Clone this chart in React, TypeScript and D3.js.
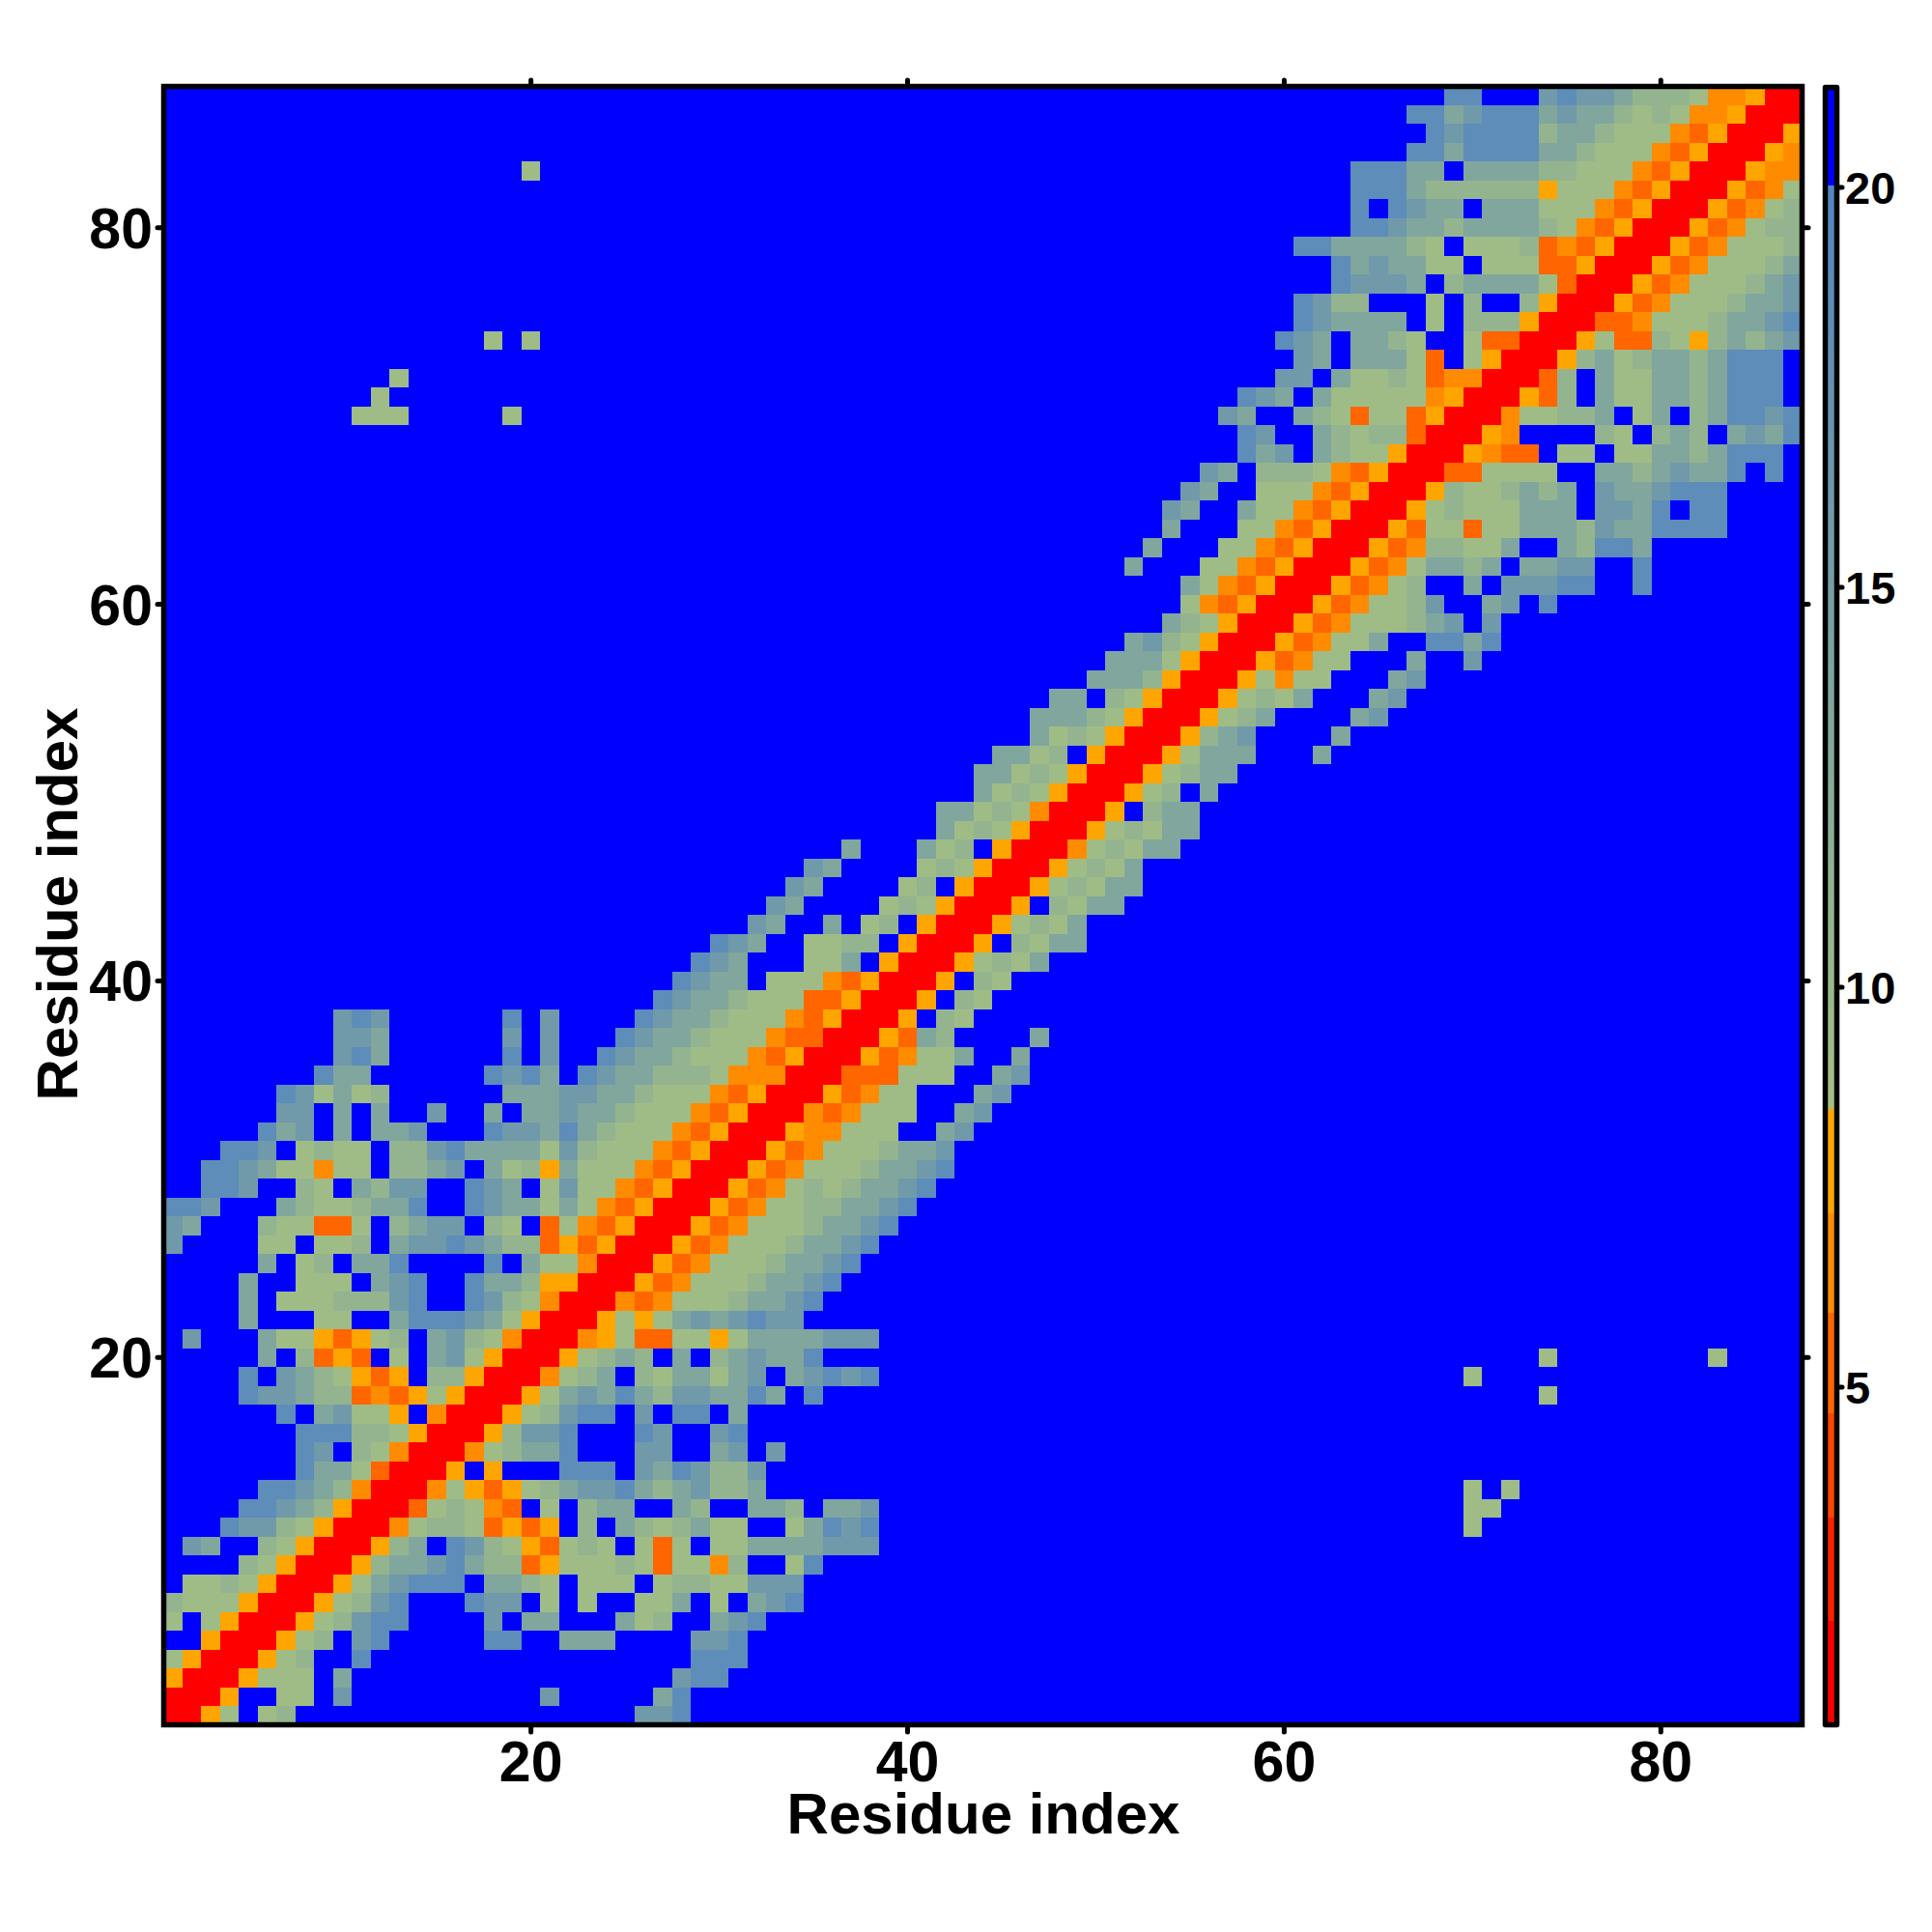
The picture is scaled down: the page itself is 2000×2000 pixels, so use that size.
import React from "react";
import * as d3 from "d3";

// Symmetric contact map: each row starts at its diagonal cell (row r, column r);
// omitted trailing cells are out of range (blue).
const upperRows: string[] = [
  "rrfe.ed" + "..................bba",
  "rrf..ee.b" + ".........." + "b" + "....." + "ca",
  "rrfeee.c" + "................." + "baa",
  "rrfed..a" + "................." + "aaa",
  "rrfed.ba.....aa..ccc....bba",
  "rrfedbaa....b.cc...ced..cba",
  "rrfedba...abb.e.e..eec.e.cba",
  "rrfecbaaa.ccde.eee.eddeebbb",
  "rrfdccbacddhfeeedeheegd..ea",
  "rrfdc.abdefhede.ehe.eeccccbbb",
  "rrgeddehfhf.d.cdedcee..ecaba",
  "rrhedegh.e.dcc..cd..ccd.ccb",
  "rrgefhfedcbbacdcbddc",
  "rrf.f...aaa.bcabddb",
  "rrgedcca...bb..cb.b",
  "rrfdbba...ab..ba",
  "rrfedbaa.b.aa.c",
  "rrfecbcacdbbccac.a",
  "rrgedc.deccecb.cbaba",
  "rrfedcd.c.dcbcca",
  "rrgfehheefeccccbbb",
  "rrfefecbcbabb",
  "rrghgeeedccba",
  "rrfhgeeedccba",
  "rrfhgeeedccba",
  "rrfhgeeedccba",
  "rrfhgeeedccba",
  "rrfhgeeddccba",
  "rrfhgededccba",
  "rrfhgeeedccba",
  "rrfhgeeedccb",
  "rrfggeee..cb",
  "rrghgeee..cb",
  "rrfhgee...cb",
  "rrhhheee..cb",
  "rrfhgeec..c",
  "rrfhcd....c",
  "rrf.de",
  "rrf.de",
  "rrf.de",
  "rrfedec",
  "rrf.decc",
  "rrfedec",
  "rrf.decc",
  "rrfedecc",
  "rrfedec",
  "rrgedecc",
  "rrfedecc",
  "rrf.dcc",
  "rrfed.c",
  "rrfedcc",
  "rrfeccc...c",
  "rrfdcb....c",
  "rrfedc....cb",
  "rrfedec...cb",
  "rrfegee...cb",
  "rrfhgee...c..b",
  "rrfhgeec..aaca",
  "rrfhgeeedcb.b",
  "rrfhgeedb..cb.a",
  "rrfhged..c.bbbaa..a",
  "rrfhgeccdc.ccbb..a",
  "rrfhgddeec..cdaac",
  "rrfheeheecccdbccaaaa",
  "rrfedeeeccc.bbca.aa",
  "rrfdeedcdc.bccbaaa",
  "rrhheeee..ccdcbcca.a",
  "rrfghh.ee.eeccdcaaa",
  "rrfg....de.dcd.cbca",
  "rrgeeddc.ec.dcaaba",
  "rrfhd.ceeccdcaaa",
  "rrhd.ceeccdcaaa",
  "rrfdcedccdcaaa",
  "rrfehhdefdcdcb",
  "rrhhgeeedccba",
  "rrfhgeeedccb",
  "rrfhgeeedcb",
  "rrfhgeeedc",
  "rrfhgeeed",
  "rrfhgedd",
  "rrfhged",
  "rrfhge",
  "rrfgg",
  "rrfg",
  "rrf",
  "rr",
  "r",
];

// [column, row] of isolated long-range contacts (code "e"), mirrored on draw
const strayContacts: [number, number][] = [
  [70, 19], [74, 20], [83, 20], [74, 18], [70, 13],
  [72, 13], [70, 12], [71, 12], [70, 11],
];

const codeValues: Record<string, number> = {
  r: 1.5, h: 5.2, g: 6.5, f: 7.8, e: 9.3, d: 10.8, c: 13.5, b: 15.8, a: 18.5, ".": 21,
};

const warmThresholds = [2.05, 3.35, 4.65, 5.9, 7.17, 8.45];
const warmColors = ["#ff0000", "#ff2000", "#ff4500", "#ff6600", "#ff8c00", "#ffa500"];
const coolDomain = [8.45, 20];
const coolColors = ["#a5c082", "#5285c0"];
const outColor = "#0000ff";

const axisTicks = [20, 40, 60, 80];
const barTicks = [5, 10, 15, 20];
const axisTitle = "Residue index";
const barRange = [0.78, 21.25];

const FONT = "'Liberation Sans', Arial, sans-serif";

export default function App() {
  const n = upperRows.length;
  const x = d3.scaleLinear().domain([0.5, n + 0.5]).range([169.5, 1865.5]);
  const y = d3.scaleLinear().domain([0.5, n + 0.5]).range([1785.5, 89.5]);
  const bar = d3.scaleLinear().domain([5, 20]).range([1436, 194]);

  const warm = d3.scaleThreshold<number, string>().domain(warmThresholds).range([...warmColors, warmColors[5]]);
  const cool = d3.scaleLinear<string>().domain(coolDomain).range(coolColors).interpolate(d3.interpolateRgb);
  const color = (v: number) => (v > 20 ? outColor : v < 8.45 ? warm(v) : cool(v));

  const matrix: number[][] = d3.range(n).map(() => d3.range(n).map(() => codeValues["."]));
  upperRows.forEach((row, r) => {
    row.split("").forEach((code, k) => {
      const c = r + k;
      matrix[r][c] = codeValues[code];
      matrix[c][r] = codeValues[code];
    });
  });
  strayContacts.forEach(([c, r]) => {
    matrix[r - 1][c - 1] = codeValues.e;
    matrix[c - 1][r - 1] = codeValues.e;
  });

  const cells: React.ReactNode[] = [];
  matrix.forEach((row, r) =>
    row.forEach((v, c) => {
      const x0 = x(c + 0.5);
      const y0 = y(r + 1.5);
      cells.push(
        <rect key={`${r}-${c}`} x={x0} y={y0} width={x(c + 1.5) - x0} height={y(r + 0.5) - y0} fill={color(v)} shapeRendering="crispEdges" />
      );
    })
  );

  const barVals = d3.range(barRange[0], barRange[1], 0.05);
  const tickStyle = { stroke: "#000", strokeWidth: 5, strokeLinecap: "round" as const };

  return (
    <svg width={2000} height={2000} viewBox="0 0 2000 2000" style={{ position: "absolute", left: 0, top: 0, background: "#fff" }} fontFamily={FONT} fontWeight="bold">
      <g>{cells}</g>
      {axisTicks.map((t) => (
        <g key={t}>
          <line x1={x(t)} x2={x(t)} y1={1785.5} y2={1793} {...tickStyle} />
          <line x1={x(t)} x2={x(t)} y1={89.5} y2={83} {...tickStyle} />
          <line x1={169.5} x2={163} y1={y(t)} y2={y(t)} {...tickStyle} />
          <line x1={1865.5} x2={1872} y1={y(t)} y2={y(t)} {...tickStyle} />
          <text x={x(t)} y={1844} fontSize={59} textAnchor="middle">{t}</text>
          <text x={158} y={y(t) + 21} fontSize={59} textAnchor="end">{t}</text>
        </g>
      ))}
      <rect x={169.5} y={89.5} width={1696} height={1696} fill="none" stroke="#000" strokeWidth={5.5} />
      <text x={1018} y={1898} fontSize={60} textAnchor="middle">{axisTitle}</text>
      <text transform="translate(80,936) rotate(-90)" fontSize={60} textAnchor="middle">{axisTitle}</text>

      {barVals.map((v) => (
        <rect key={v} x={1889} y={bar(v + 0.05)} width={13} height={bar(v) - bar(v + 0.05) + 0.5} fill={color(v)} shapeRendering="crispEdges" />
      ))}
      <rect x={1889.5} y={bar(barRange[1])} width={12} height={bar(barRange[0]) - bar(barRange[1])} fill="none" stroke="#000" strokeWidth={5.5} strokeLinejoin="round" />
      {barTicks.map((t) => (
        <g key={t}>
          <line x1={1902} x2={1907} y1={bar(t)} y2={bar(t)} {...tickStyle} />
          <text x={1910} y={bar(t) + 17} fontSize={47}>{t}</text>
        </g>
      ))}
    </svg>
  );
}
